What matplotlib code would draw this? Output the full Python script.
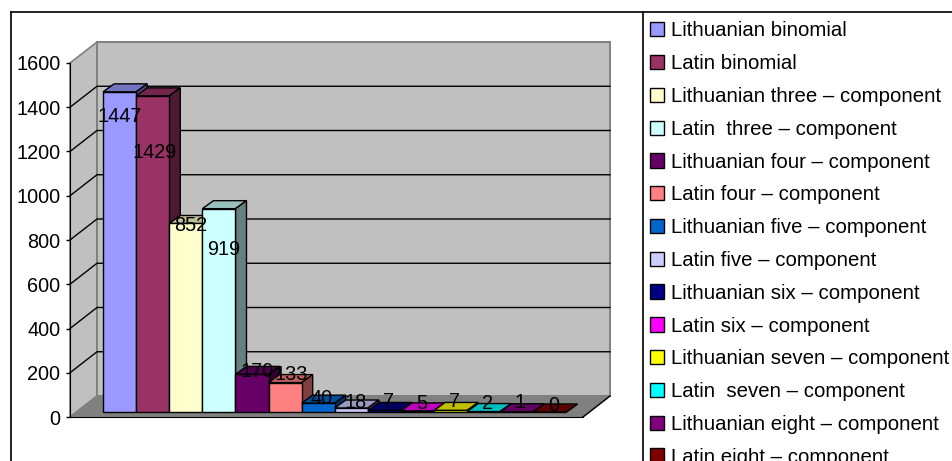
import matplotlib
matplotlib.use('Agg')
import matplotlib.pyplot as plt
from matplotlib.colors import to_rgb
from matplotlib.lines import Line2D
from matplotlib.patches import Patch
import numpy as np

plt.rcParams['font.family'] = ['Liberation Sans', 'DejaVu Sans']

labels = ['Lithuanian binomial', 'Latin binomial',
          'Lithuanian three \u2013 component', 'Latin  three \u2013 component',
          'Lithuanian four \u2013 component', 'Latin four \u2013 component',
          'Lithuanian five \u2013 component', 'Latin five \u2013 component',
          'Lithuanian six \u2013 component', 'Latin six \u2013 component',
          'Lithuanian seven \u2013 component', 'Latin  seven \u2013 component',
          'Lithuanian eight \u2013 component', 'Latin eight \u2013 component']
values = [1447, 1429, 852, 919, 170, 133, 40, 18, 7, 5, 7, 2, 1, 0]
colors = ['#9999FF', '#993366', '#FFFFCC', '#CCFFFF', '#660066', '#FF8080', '#0066CC',
          '#CCCCFF', '#000080', '#FF00FF', '#FFFF00', '#00FFFF', '#800080', '#800000']
yticks = [0, 200, 400, 600, 800, 1000, 1200, 1400, 1600]

W, H = 952, 461
fig = plt.figure(figsize=(W / 100, H / 100), dpi=100)
ax = fig.add_axes([70 / W, 1 - 417 / H, 513 / W, 354 / H])
ax.patch.set_alpha(0)
ax.set_xlim(0, 15.5)
ax.set_ylim(0, 1600)

# data units per pixel
xu = 15.5 / 513
yu = 1600 / 354
wall_x, wall_y = 27 * xu, 21 * yu
bar_x, bar_y = 11 * xu, 8 * yu
base = 5 * yu
right = 15.5

# walls and floor
ax.fill([0, wall_x, wall_x, 0], [0, wall_y, 1600 + wall_y, 1600],
        fc='#C0C0C0', ec='#808080', lw=1.2, clip_on=False, zorder=1)
ax.fill([wall_x, right + wall_x, right + wall_x, wall_x],
        [wall_y, wall_y, 1600 + wall_y, 1600 + wall_y],
        fc='#C0C0C0', ec='#808080', lw=1.4, clip_on=False, zorder=1)
ax.fill([0, wall_x, right + wall_x, right], [0, wall_y, wall_y, 0],
        fc='#808080', ec='#808080', lw=1, clip_on=False, zorder=2)
ax.plot([right, right + wall_x], [0, wall_y], color='k', lw=1, clip_on=False, zorder=2)

# gridlines round the walls
for t in yticks[1:-1]:
    ax.plot([0, wall_x, right + wall_x], [t, t + wall_y, t + wall_y],
            color='k', lw=1, clip_on=False, zorder=3)


def shade(c, f):
    return tuple(v * f for v in to_rgb(c))


pos = np.arange(len(values))
for i, v in enumerate(values):
    x0 = pos[i] + 1
    top = base + v
    z = 10 + i
    ax.fill([x0, x0 + bar_x, x0 + 1 + bar_x, x0 + 1],
            [top, top + bar_y, top + bar_y, top],
            fc=shade(colors[i], 0.75), ec='k', lw=1, clip_on=False, zorder=z)
    ax.fill([x0 + 1, x0 + 1 + bar_x, x0 + 1 + bar_x, x0 + 1],
            [base, base + bar_y, top + bar_y, top],
            fc=shade(colors[i], 0.5), ec='k', lw=1, clip_on=False, zorder=z)
    ax.bar(x0 + 0.5, v, width=1, bottom=base, color=colors[i], edgecolor='k', lw=1, zorder=z)

# label offsets from the top centre of each bar, in pixels
label_dx = [0, 2, 5, 5, 5, 6, 3, 4, 4, 4, 4, 4, 3, 4]
label_dy = [-25, -57, -2, -41, 3, 8, 5, 6, 9, 7, 9, 8, 9, 7]
for i, v in enumerate(values):
    ax.annotate(str(v), (pos[i] + 1.5, base + v), xytext=(label_dx[i], label_dy[i]),
                textcoords='offset pixels', ha='center', va='center',
                fontsize=14.3, color='k', zorder=40, annotation_clip=False)

for s in ['top', 'right']:
    ax.spines[s].set_visible(False)
ax.spines['left'].set_zorder(5)
ax.spines['bottom'].set_zorder(5)
ax.set_xticks([])
ax.set_yticks(yticks)
ax.tick_params(axis='y', length=3, width=1, pad=4, labelsize=14.3)

# chart frame and legend divider
frame = dict(color='k', lw=1.2, transform=fig.transFigure)
fig.add_artist(Line2D([11 / W, 11 / W], [0, 1 - 12.5 / H], **frame))
fig.add_artist(Line2D([11 / W, 1], [1 - 12.5 / H, 1 - 12.5 / H], **frame))
fig.add_artist(Line2D([643 / W, 643 / W], [0, 1 - 12.5 / H], **frame))

handles = [Patch(fc=c, ec='k', lw=1) for c in colors]
fig.legend(handles, labels, loc='upper left', bbox_to_anchor=(650 / W, 1 - 21.5 / H),
           frameon=False, fontsize=14.7, borderaxespad=0, borderpad=0,
           handlelength=0.7, handleheight=0.7, handletextpad=0.34, labelspacing=0.675)

fig.savefig('out.png', dpi=100)
